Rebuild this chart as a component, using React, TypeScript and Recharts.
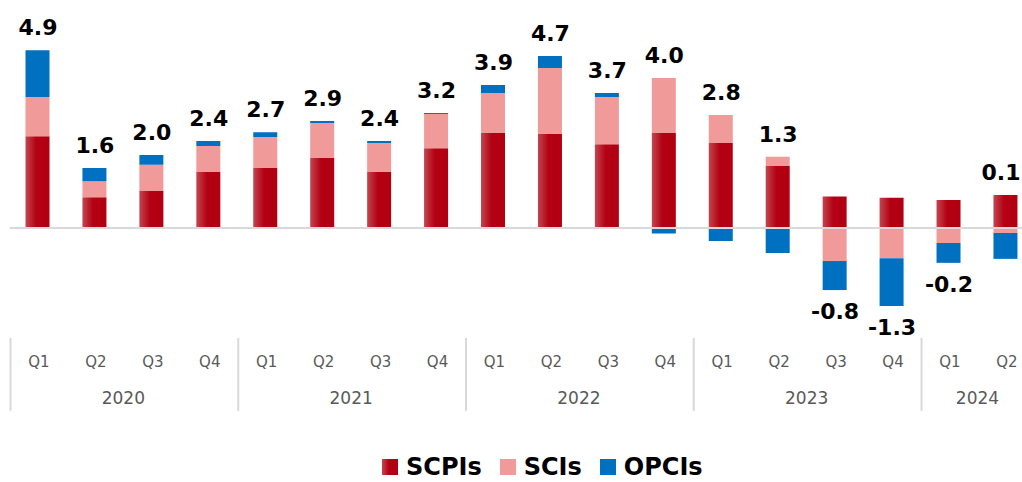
import React from 'react';
import {
  ComposedChart,
  Bar,
  Line,
  XAxis,
  YAxis,
  ReferenceLine,
  LabelList,
} from 'recharts';

const quarters = ['Q1', 'Q2', 'Q3', 'Q4', 'Q1', 'Q2', 'Q3', 'Q4', 'Q1', 'Q2', 'Q3', 'Q4', 'Q1', 'Q2', 'Q3', 'Q4', 'Q1', 'Q2'];
const years = ['2020', '2020', '2020', '2020', '2021', '2021', '2021', '2021', '2022', '2022', '2022', '2022', '2023', '2023', '2023', '2023', '2024', '2024'];
const scpi = [2.53, 0.85, 1.02, 1.54, 1.65, 1.93, 1.54, 2.2, 2.62, 2.59, 2.31, 2.62, 2.34, 1.71, 0.87, 0.83, 0.77, 0.91];
const sci = [1.08, 0.44, 0.72, 0.72, 0.86, 0.96, 0.8, 0.94, 1.1, 1.82, 1.3, 1.51, 0.77, 0.25, -0.91, -0.83, -0.41, -0.14];
const opci = [1.29, 0.36, 0.27, 0.14, 0.13, 0.06, 0.06, 0.03, 0.22, 0.33, 0.11, -0.15, -0.36, -0.69, -0.8, -1.32, -0.55, -0.71];
const totalLabels = ['4.9', '1.6', '2.0', '2.4', '2.7', '2.9', '2.4', '3.2', '3.9', '4.7', '3.7', '4.0', '2.8', '1.3', '-0.8', '-1.3', '-0.2', '0.1'];

const COLORS = { scpi: '#b30012', sci: '#f09b9a', opci: '#0070c0' };
const FONT = '"DejaVu Sans", sans-serif';

const W = 1040;
const H = 482;
const VISIBLE_W = 1022;
const MARGIN = { top: 10.2, right: 5.6, left: 9.5, bottom: 0 };
const AXIS_H = 145.1;
const BAND = (W - MARGIN.left - MARGIN.right) / quarters.length;

const data = quarters.map((q, i) => {
  const parts = [scpi[i], sci[i], opci[i]];
  const pos = parts.filter((v) => v > 0).reduce((a, b) => a + b, 0);
  const neg = parts.filter((v) => v < 0).reduce((a, b) => a + b, 0);
  const negTotal = totalLabels[i].startsWith('-');
  return {
    key: `${years[i]}-${q}`,
    quarter: q,
    year: years[i],
    scpi: scpi[i],
    sci: sci[i],
    opci: opci[i],
    label: totalLabels[i],
    anchor: negTotal ? neg : pos,
  };
});

const QuarterTick = (props: any) => {
  const { x, y, index } = props;
  const d = data[index];
  if (!d) return null;
  const first = index === 0 || data[index - 1].year !== d.year;
  let yearEl = null;
  if (first) {
    const n = data.filter((r) => r.year === d.year).length;
    const cx = x + ((n - 1) / 2) * BAND;
    const sx = x - BAND / 2 + 1;
    yearEl = (
      <g>
        <line x1={sx} x2={sx} y1={y + 1} y2={y + 74} stroke="#d9d9d9" strokeWidth={2} />
        <text x={cx} y={y + 67} textAnchor="middle" fill="#595959" fontSize={17} fontFamily={FONT}>
          {d.year}
        </text>
      </g>
    );
  }
  return (
    <g>
      <text x={x + 1} y={y + 30} textAnchor="middle" fill="#595959" fontSize={15} fontFamily={FONT}>
        {d.quarter}
      </text>
      {yearEl}
    </g>
  );
};

const renderTotal = (props: any) => {
  const { x, y, index } = props;
  const d = data[index];
  const neg = d.label.startsWith('-');
  // keep the last label inside the visible window
  const tx = Math.min(x, VISIBLE_W - 21);
  return (
    <text
      x={tx}
      y={neg ? y + 29 : y - 15}
      textAnchor="middle"
      fill="#000"
      fontSize={22}
      fontWeight="bold"
      fontFamily={FONT}
    >
      {d.label}
    </text>
  );
};

const legendItems = [
  { name: 'SCPIs', bg: 'linear-gradient(to right, #c4454e 0%, #b30012 45%, #b00012 100%)' },
  { name: 'SCIs', bg: COLORS.sci },
  { name: 'OPCIs', bg: COLORS.opci },
];

export default function App() {
  return (
    <div style={{ position: 'fixed', left: 0, top: 0, width: VISIBLE_W, height: H, overflow: 'hidden', background: '#fff' }}>
      <ComposedChart width={W} height={H} data={data} margin={MARGIN} stackOffset="sign">
        <defs>
          <linearGradient id="scpiGrad" x1="0" y1="0" x2="1" y2="0">
            <stop offset="0%" stopColor="#c4454e" />
            <stop offset="45%" stopColor="#b30012" />
            <stop offset="100%" stopColor="#b00012" />
          </linearGradient>
        </defs>
        <XAxis
          dataKey="key"
          interval={0}
          height={AXIS_H}
          axisLine={false}
          tickLine={false}
          tickSize={0}
          tickMargin={0}
          tick={<QuarterTick />}
        />
        <YAxis hide domain={[-3, 6]} allowDataOverflow />
        <ReferenceLine y={0} stroke="#d9d9d9" strokeWidth={2} />
        <Bar dataKey="scpi" stackId="a" fill="url(#scpiGrad)" barSize={24} isAnimationActive={false} />
        <Bar dataKey="sci" stackId="a" fill={COLORS.sci} barSize={24} isAnimationActive={false} />
        <Bar dataKey="opci" stackId="a" fill={COLORS.opci} barSize={24} isAnimationActive={false} />
        <Line dataKey="anchor" stroke="none" dot={false} activeDot={false} legendType="none" isAnimationActive={false}>
          <LabelList dataKey="label" content={renderTotal} />
        </Line>
      </ComposedChart>
      <div
        style={{
          position: 'absolute',
          left: 382,
          top: 453,
          display: 'flex',
          alignItems: 'center',
          fontFamily: FONT,
          fontWeight: 'bold',
          fontSize: 24,
          color: '#000',
        }}
      >
        {legendItems.map((it) => (
          <div key={it.name} style={{ display: 'flex', alignItems: 'center', marginRight: 18 }}>
            <span style={{ display: 'inline-block', width: 16, height: 16, background: it.bg, marginRight: 8 }} />
            <span>{it.name}</span>
          </div>
        ))}
      </div>
    </div>
  );
}
